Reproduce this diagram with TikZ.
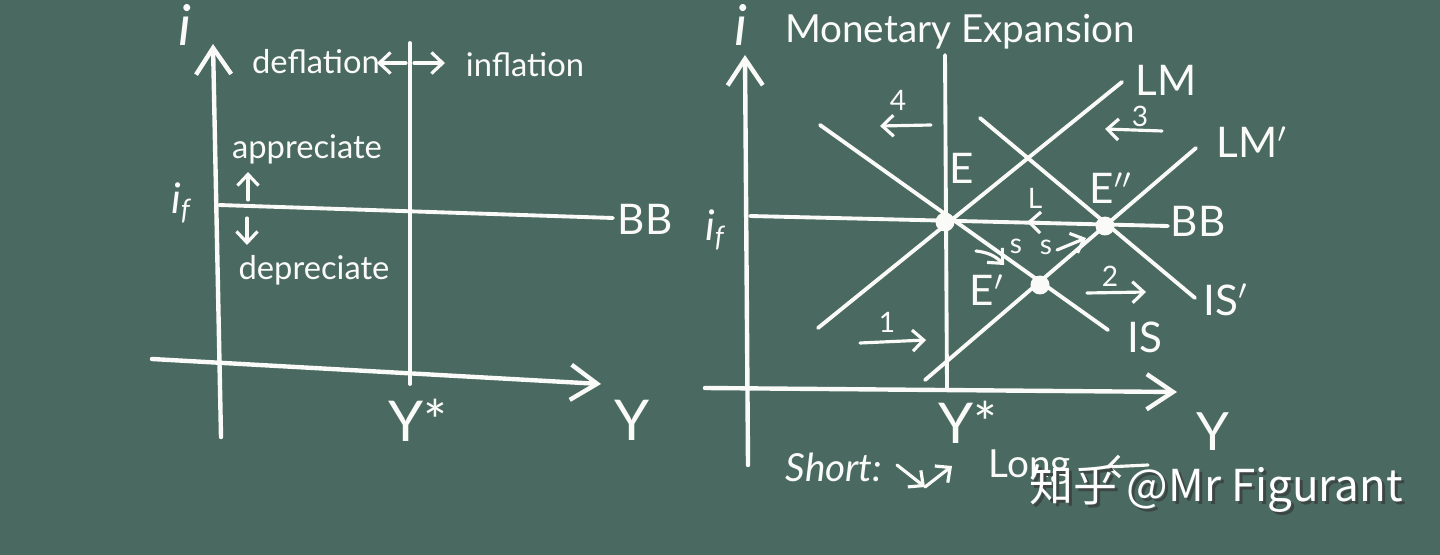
\documentclass[tikz,border=0pt]{standalone}
\usepackage{fontspec}
\setmainfont{Lato}
\newfontfamily\cjk{Noto Sans CJK SC}
\usetikzlibrary{arrows.meta}
\definecolor{board}{RGB}{74,106,97}
\definecolor{chalk}{RGB}{250,250,248}
\definecolor{shadow}{RGB}{60,70,66}
\begin{document}
\begin{tikzpicture}[x=0.01cm,y=-0.01cm,
  chalkline/.style={draw=chalk,line width=1.1pt,line cap=round,line join=round},
  axisline/.style={chalkline,line width=1.25pt,-{Straight Barb[length=7.5pt,width=10pt,line width=1.25pt]}},
  smallarrow/.style={chalkline,line width=0.9pt,-{Straight Barb[length=3.2pt,width=6pt,line width=0.9pt]}},
  lbl/.style={text=chalk,inner sep=0pt,font=\fontsize{12}{14}\selectfont},
  txt/.style={text=chalk,inner sep=0pt,font=\fontsize{9.3}{11}\selectfont},
  num/.style={text=chalk,inner sep=0pt,font=\fontsize{8}{10}\selectfont},
  big/.style={text=chalk,inner sep=0pt,font=\fontsize{16}{18}\selectfont},
  dot/.style={fill=chalk}
]
\fill[board] (0,0) rectangle (1440,555);
\useasboundingbox (0,0) rectangle (1440,555);

% ---------------- left diagram ----------------
\coordinate (La0) at (221,437);
\coordinate (La1) at (213,44);
\coordinate (Lh0) at (152,359);
\coordinate (Lh1) at (601,384);
\coordinate (Ly0) at (410,43);
\coordinate (Ly1) at (410,384);
\coordinate (Lb0) at (219,205);
\coordinate (Lb1) at (613,218);
\coordinate (Lu0) at (248,200);
\coordinate (Lu1) at (248,172);
\coordinate (Ld0) at (247,218);
\coordinate (Ld1) at (247,245);
\coordinate (Ldf0) at (406,63);
\coordinate (Ldf1) at (377,63);
\coordinate (Lin0) at (414,63);
\coordinate (Lin1) at (445,63);

\draw[axisline] (La0) -- (La1);
\draw[axisline] (Lh0) -- (Lh1);
\draw[chalkline] (Ly0) -- (Ly1);
\draw[chalkline] (Lb0) -- (Lb1);
\draw[smallarrow] (Lu0) -- (Lu1);
\draw[smallarrow] (Ld0) -- (Ld1);
\draw[smallarrow] (Ldf0) -- (Ldf1);
\draw[smallarrow] (Lin0) -- (Lin1);

\node[big] (Li) at (185,25) {\textit{i}};
\node[lbl] (Lif) at (182,203) {\textit{i}\textsubscript{\textit{f}}};
\node[txt] (Ldefl) at (316,62) {deflation};
\node[txt] (Linfl) at (525,65) {inflation};
\node[txt] (Lapp) at (307,149) {appreciate};
\node[txt] (Ldep) at (314,270) {depreciate};
\node[lbl] (LBB) at (645,219) {BB};
\node[big] (LYs) at (418,420) {Y*};
\node[big] (LY) at (632,420) {Y};

% ---------------- right diagram ----------------
\coordinate (Ra0) at (748,465);
\coordinate (Ra1) at (745,55);
\coordinate (Rh0) at (705,388);
\coordinate (Rh1) at (1177,392);
\coordinate (Ry0) at (945,55);
\coordinate (Ry1) at (947,388);
\coordinate (Rb0) at (750,216);
\coordinate (Rb1) at (1168,226);
\coordinate (LM0) at (818,328);
\coordinate (LM1) at (1122,82);
\coordinate (IS0) at (820,125);
\coordinate (IS1) at (1108,330);
\coordinate (ISp0) at (980,118);
\coordinate (ISp1) at (1195,298);
\coordinate (LMp0) at (925,380);
\coordinate (LMp1) at (1196,148);
\coordinate (E) at (945,222);
\coordinate (Epp) at (1105,226);
\coordinate (Ep) at (1040,285);

\draw[axisline] (Ra0) -- (Ra1);
\draw[axisline] (Rh0) -- (Rh1);
\draw[chalkline] (Ry0) -- (Ry1);
\draw[chalkline] (Rb0) -- (Rb1);
\draw[chalkline] (LM0) -- (LM1);
\draw[chalkline] (IS0) -- (IS1);
\draw[chalkline] (ISp0) -- (ISp1);
\draw[chalkline] (LMp0) -- (LMp1);
\fill[dot] (E) circle[radius=2.7pt];
\fill[dot] (Epp) circle[radius=2.7pt];
\fill[dot] (Ep) circle[radius=2.7pt];

% numbered movement arrows
\coordinate (A4a) at (931,125);
\coordinate (A4b) at (880,126);
\coordinate (A3a) at (1162,131);
\coordinate (A3b) at (1105,129);
\coordinate (A1a) at (860,343);
\coordinate (A1b) at (926,340);
\coordinate (A2a) at (1087,293);
\coordinate (A2b) at (1146,292);
\coordinate (ALa) at (1050,223);
\coordinate (ALb) at (1027,222);
\coordinate (As1a) at (976,251);
\coordinate (As1b) at (1004,265);
\coordinate (As2a) at (1057,250);
\coordinate (As2b) at (1086,238);
\draw[smallarrow] (A4a) -- (A4b);
\draw[smallarrow] (A3a) -- (A3b);
\draw[smallarrow] (A1a) -- (A1b);
\draw[smallarrow] (A2a) -- (A2b);
\draw[smallarrow] (ALa) -- (ALb);
\draw[smallarrow] (As1a) to[bend left=20] (As1b);
\draw[smallarrow] (As2a) -- (As2b);

\node[big] (Ri) at (741,25) {\textit{i}};
\node[text=chalk,inner sep=0pt,font=\fontsize{11}{13}\selectfont] (Rtitle) at (960,32) {Monetary Expansion};
\node[lbl] (Rif) at (716,230) {\textit{i}\textsubscript{\textit{f}}};
\node[lbl] (RBB) at (1198,221) {BB};
\node[lbl] (RLM) at (1166,80) {LM};
\node[lbl] (RLMp) at (1252,142) {LM$'$};
\node[lbl] (RIS) at (1145,337) {IS};
\node[lbl] (RISp) at (1226,300) {IS$'$};
\node[lbl] (RE) at (962,168) {E};
\node[lbl] (REpp) at (1111,188) {E$''$};
\node[lbl] (REp) at (987,290) {E$'$};
\node[num] (RL) at (1035,198) {L};
\node[num] (Rs1) at (1016,246) {s};
\node[num] (Rs2) at (1046,247) {s};
\node[num] (N4) at (898,100) {4};
\node[num] (N3) at (1140,116) {3};
\node[num] (N1) at (887,322) {1};
\node[num] (N2) at (1110,276) {2};
\node[big] (RYs) at (968,422) {Y*};
\node[text=chalk,inner sep=0pt,font=\fontsize{15}{17}\selectfont] (RY) at (1213,432) {Y};

% short / long note
\node[text=chalk,inner sep=0pt,font=\fontsize{11}{13}\selectfont\itshape] (Short) at (834,467) {Short:};
\coordinate (Sq0) at (897,465);
\coordinate (Sq1) at (925,487);
\coordinate (Sq2) at (952,466);
\draw[smallarrow] (Sq0) -- (Sq1);
\draw[smallarrow] (Sq1) -- (Sq2);
\node[text=chalk,inner sep=0pt,font=\fontsize{11}{13}\selectfont] (Long) at (1030,467) {Long};
\coordinate (Lg0) at (1148,465);
\coordinate (Lg1) at (1106,467);
\draw[smallarrow] (Lg0) -- (Lg1);

% watermark
\node[text=shadow,inner sep=0pt,font=\cjk\fontsize{12.5}{15}\selectfont] (wms) at (1219,492) {知乎 @Mr Figurant};
\node[text=white,inner sep=0pt,font=\cjk\fontsize{12.5}{15}\selectfont] (wm) at (1216,489) {知乎 @Mr Figurant};
\end{tikzpicture}
\end{document}
